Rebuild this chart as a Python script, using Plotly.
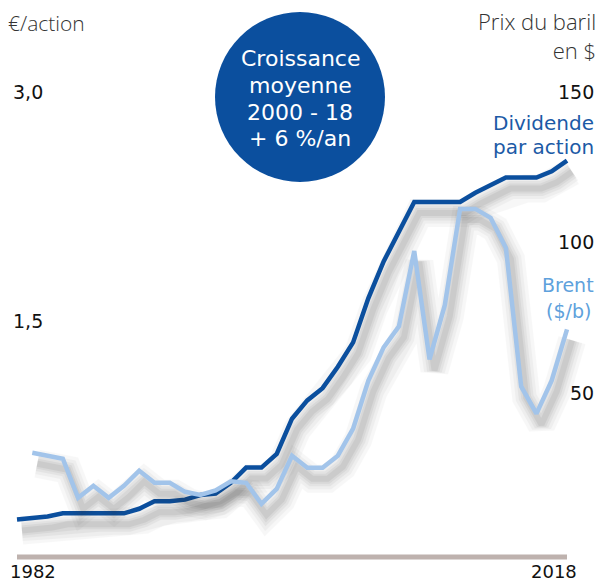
import plotly.graph_objects as go

years = list(range(1982, 2019))
dividend = [0.20, 0.21, 0.22, 0.24, 0.24, 0.24, 0.24, 0.24, 0.27, 0.32,
            0.32, 0.33, 0.36, 0.37, 0.44, 0.54, 0.54, 0.63, 0.86, 0.98,
            1.06, 1.20, 1.36, 1.65, 1.89, 2.08, 2.28, 2.28, 2.28, 2.28,
            2.34, 2.39, 2.44, 2.44, 2.44, 2.48, 2.55]
brent_years = list(range(1983, 2019))
brent = [30, 29, 28, 15, 19, 15, 19, 24, 20, 20,
         17, 16, 17.5, 20.5, 20, 13, 18, 29, 25, 25,
         29, 38, 54, 65, 72, 97, 61, 79, 111, 111,
         108, 98, 52, 43, 54, 71]

left_ticks = [1.5, 3.0]
left_ticktext = ["1,5", "3,0"]
right_ticks = [50, 100, 150]
right_ticktext = ["50", "100", "150"]
circle_lines = ["Croissance", "moyenne", "2000 - 18", "+ 6 %/an"]

DARK = "#0b4f9e"
LIGHT = "#a2c4ea"
W, H = 598, 583

# pixel mapping helpers (for axis ranges)
px_per_year = 15.278
x0_px = 17
y_zero_px, y_px_per = 550, 152.67
y2_zero_px, y2_px_per = 543, 3.01

xr = [1982 - x0_px / px_per_year, 1982 + (W - x0_px) / px_per_year]
yr = [(y_zero_px - H) / y_px_per, y_zero_px / y_px_per]
y2r = [(y2_zero_px - H) / y2_px_per, y2_zero_px / y2_px_per]

fig = go.Figure()

# soft drop shadows (derived from the same data, shifted down-right)
sdx = 5 / px_per_year
sdy = 11
for width, op in [(28, 0.03), (21, 0.04), (15, 0.05), (10, 0.06), (6, 0.07)]:
    fig.add_trace(go.Scatter(x=[v + sdx for v in brent_years],
                             y=[v - sdy / y2_px_per for v in brent], yaxis="y2",
                             mode="lines", line=dict(color="#333", width=width),
                             opacity=op, hoverinfo="skip", showlegend=False))
    fig.add_trace(go.Scatter(x=[v + sdx for v in years],
                             y=[v - sdy / y_px_per for v in dividend],
                             mode="lines", line=dict(color="#333", width=width),
                             opacity=op, hoverinfo="skip", showlegend=False))

fig.add_trace(go.Scatter(x=brent_years, y=brent, yaxis="y2", mode="lines",
                         line=dict(color=LIGHT, width=4.5), showlegend=False))
fig.add_trace(go.Scatter(x=years, y=dividend, mode="lines",
                         line=dict(color=DARK, width=4.5), showlegend=False))

fig.update_layout(
    width=W, height=H, margin=dict(l=0, r=0, t=0, b=0),
    paper_bgcolor="white", plot_bgcolor="white",
    xaxis=dict(range=xr, visible=False, domain=[0, 1]),
    yaxis=dict(range=yr, visible=False, domain=[0, 1]),
    yaxis2=dict(range=y2r, visible=False, overlaying="y", side="right"),
    showlegend=False,
)

# baseline
fig.add_shape(type="line", xref="x", yref="paper", x0=1982, x1=2018,
              y0=(H - 557) / H, y1=(H - 557) / H,
              line=dict(color="#beb2ae", width=5), layer="below")

# circle
fig.add_shape(type="circle", xref="paper", yref="paper",
              xsizemode="pixel", ysizemode="pixel",
              xanchor=300 / W, yanchor=(H - 97) / H,
              x0=-85, x1=85, y0=-85, y1=85,
              fillcolor=DARK, line=dict(width=0))

TXT = "DejaVu Sans, Verdana, sans-serif"
LIGHTF = "Open Sans, sans-serif"
ann = []
for i, t in enumerate(circle_lines):
    ann.append(dict(x=300 / W, y=(H - (59 + 26.5 * i)) / H, xref="paper", yref="paper",
                    text=t, font=dict(family=TXT, size=22, color="white"),
                    showarrow=False, xanchor="center", yanchor="middle", borderpad=0))
for v, t in zip(left_ticks, left_ticktext):
    ann.append(dict(x=11 / W, y=v, xref="paper", yref="y", text=t,
                    font=dict(family=TXT, size=19, color="#111"),
                    showarrow=False, xanchor="left", yanchor="middle"))
for v, t in zip(right_ticks, right_ticktext):
    ann.append(dict(x=596 / W, y=v, xref="paper", yref="y2", text=t,
                    font=dict(family=TXT, size=19, color="#111"),
                    showarrow=False, xanchor="right", yanchor="middle"))
ann.append(dict(x=1982, y=(H - 571.5) / H, xref="x", yref="paper", text="1982",
                xshift=-8, font=dict(family=TXT, size=18, color="#111"), borderpad=0,
                showarrow=False, xanchor="left", yanchor="middle"))
ann.append(dict(x=2018, y=(H - 571.5) / H, xref="x", yref="paper", text="2018",
                xshift=11, font=dict(family=TXT, size=18, color="#111"), borderpad=0,
                showarrow=False, xanchor="right", yanchor="middle"))
ann.append(dict(x=6 / W, y=(H - 23) / H, xref="paper", yref="paper", text="€/action",
                font=dict(family=LIGHTF, size=21, color="#333", weight=300),
                showarrow=False, xanchor="left", yanchor="middle"))
ann.append(dict(x=597 / W, y=(H - 35) / H, xref="paper", yref="paper",
                text="Prix du baril<br>en $", borderpad=0, align="right",
                font=dict(family=LIGHTF, size=22, color="#333", weight=300),
                showarrow=False, xanchor="right", yanchor="middle"))
ann.append(dict(x=595 / W, y=(H - 123) / H, xref="paper", yref="paper",
                text="Dividende", font=dict(family=TXT, size=20, color="#1c5aa6"),
                showarrow=False, xanchor="right", yanchor="middle", borderpad=0))
ann.append(dict(x=595 / W, y=(H - 147) / H, xref="paper", yref="paper",
                text="par action", font=dict(family=TXT, size=20, color="#1c5aa6"),
                showarrow=False, xanchor="right", yanchor="middle", borderpad=0))
ann.append(dict(x=595 / W, y=(H - 285) / H, xref="paper", yref="paper",
                text="Brent", font=dict(family=TXT, size=19, color="#5ea1dc"),
                showarrow=False, xanchor="right", yanchor="middle", borderpad=0))
ann.append(dict(x=592 / W, y=(H - 311) / H, xref="paper", yref="paper",
                text="($/b)", font=dict(family=TXT, size=19, color="#5ea1dc"),
                showarrow=False, xanchor="right", yanchor="middle", borderpad=0))
fig.update_layout(annotations=ann)

fig.write_html(
    "out.html",
    config={"displayModeBar": False},
    post_script="document.body.style.margin='0';document.body.style.overflow='hidden';",
)
